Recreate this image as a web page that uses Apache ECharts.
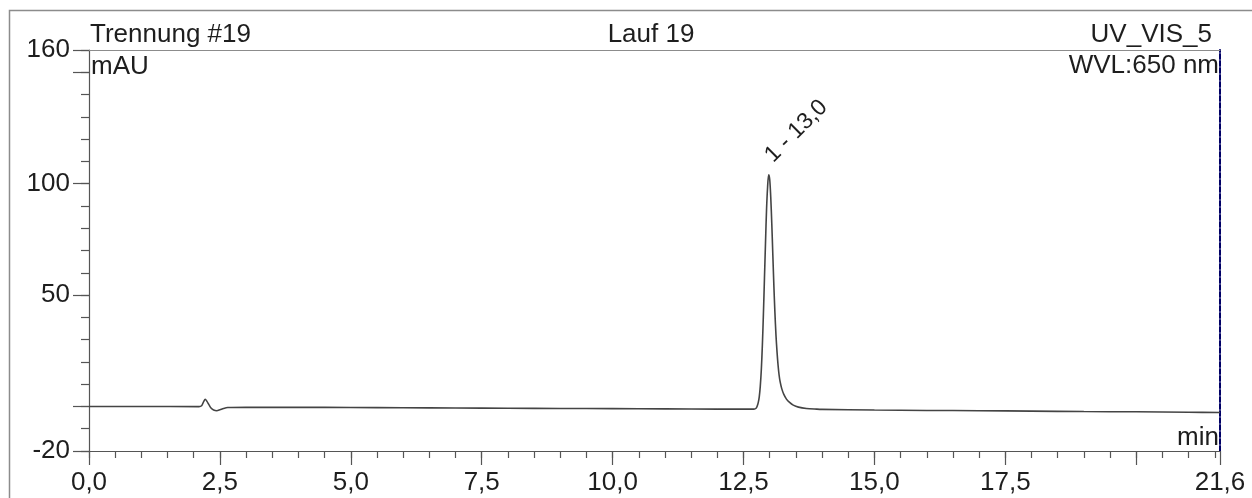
<!DOCTYPE html>
<html>
<head>
<meta charset="utf-8">
<script src="https://cdn.jsdelivr.net/npm/echarts@6/dist/echarts.min.js"></script>
<style>
html,body{margin:0;padding:0;background:#fff;}
#c{width:1252px;height:498px;}
</style>
</head>
<body>
<div id="c"></div>
<script>
// ---- data ----
const timeMin = [
  0.0, 1.0, 2.10, 2.15, 2.19, 2.22, 2.25, 2.29, 2.33, 2.38, 2.44, 2.50, 2.57, 2.65, 3.0,
  4.0, 5.0, 6.0, 7.0, 8.0, 9.0, 10.0, 11.0, 12.0, 12.5, 12.70,
  12.74, 12.76, 12.78, 12.80, 12.82, 12.84, 12.86, 12.88, 12.90, 12.92, 12.94, 12.96, 12.98,
  13.00, 13.02, 13.04, 13.06, 13.08, 13.10, 13.12, 13.14, 13.16, 13.18, 13.20, 13.23, 13.27,
  13.32, 13.38, 13.45, 13.55, 13.70, 13.90, 14.0, 15.0, 16.0, 17.0, 18.0, 19.0, 20.0, 21.0, 21.6
];
const absorbance = [
  0.0, 0.0, -0.1, 0.3, 2.2, 3.2, 2.4, 0.8, -0.7, -1.6, -1.9, -1.5, -0.9, -0.5, -0.4,
  -0.4, -0.5, -0.6, -0.7, -0.8, -0.9, -1.0, -1.1, -1.2, -1.2, -1.2,
  -0.8, 0.1, 1.6, 4.2, 9.0, 16.5, 27.5, 41.5, 57.5, 73.5, 88.5, 98.5, 104.0,
  102.0, 94.0, 82.0, 68.0, 54.0, 42.0, 32.0, 24.5, 18.5, 14.0, 11.0, 8.0, 5.4,
  3.3, 1.8, 0.6, -0.3, -0.9, -1.2, -1.3, -1.6, -1.8, -1.9, -2.1, -2.3, -2.4, -2.6, -2.7
];
const peakNumber = 1;
const peakTime = 12.98;
const peakValue = 104.0;

const xMajorTicks = [0, 2.5, 5, 7.5, 10, 12.5, 15, 17.5, 20, 21.6];
const xLabelTicks = [0, 2.5, 5, 7.5, 10, 12.5, 15, 17.5, 21.6];
const yMajorTicks = [-20, 0, 50, 100, 150, 160];
const yLabelTicks = [-20, 50, 100, 160];

const titleLeft = 'Trennung #19';
const titleCenter = 'Lauf 19';
const titleRight = 'UV_VIS_5';
const yUnit = 'mAU';
const wavelength = 'WVL:650 nm';
const xUnit = 'min';

// ---- chart ----
const xMin = 0, xMax = 21.6, yMin = -20, yMax = 160;
const xMinor = [];
for (let v = 0; v <= 21.5 + 1e-9; v += 0.5) xMinor.push(+v.toFixed(1));

const FONT = "'Liberation Sans', Arial, sans-serif";
const TXT = '#1e1e1e';
const AX = '#555';
const fmtComma = v => (Math.round(v * 10) / 10).toFixed(1).replace('.', ',');

const chart = echarts.init(document.getElementById('c'), null, {renderer: 'canvas'});
const G = {left: 89, top: 50, right: 32, bottom: 47};

chart.setOption({
  animation: false,
  backgroundColor: '#fff',
  grid: {left: G.left, top: G.top, right: G.right, bottom: G.bottom, containLabel: false},
  xAxis: [
    { type: 'value', min: xMin, max: xMax, position: 'bottom',
      axisLine: {show: true, onZero: false, lineStyle: {color: AX, width: 1.2}},
      axisTick: {show: true, customValues: xMinor, length: 7, lineStyle: {color: AX, width: 1.2}},
      axisLabel: {show: false}, splitLine: {show: false} },
    { type: 'value', min: xMin, max: xMax, position: 'bottom',
      axisLine: {show: false, onZero: false},
      axisTick: {show: true, customValues: xMajorTicks, length: 14, lineStyle: {color: AX, width: 1.2}},
      axisLabel: {show: true, customValues: xLabelTicks, formatter: fmtComma, margin: 19,
                  fontSize: 26, fontFamily: FONT, color: TXT},
      splitLine: {show: false} },
    { type: 'value', min: xMin, max: xMax, position: 'top',
      axisLine: {show: true, onZero: false, lineStyle: {color: '#8c8c8c', width: 1.2}},
      axisTick: {show: false}, axisLabel: {show: false}, splitLine: {show: false} }
  ],
  yAxis: [
    { type: 'value', min: yMin, max: yMax, interval: 10, position: 'left',
      axisLine: {show: true, onZero: false, lineStyle: {color: AX, width: 1.2}},
      axisTick: {show: true, length: 8, lineStyle: {color: AX, width: 1.2}},
      axisLabel: {show: false}, splitLine: {show: false} },
    { type: 'value', min: yMin, max: yMax, position: 'left',
      axisLine: {show: false, onZero: false},
      axisTick: {show: true, customValues: yMajorTicks, length: 16, lineStyle: {color: AX, width: 1.2}},
      axisLabel: {show: true, customValues: yLabelTicks, margin: 19, fontSize: 26, fontFamily: FONT, color: TXT},
      splitLine: {show: false} },
    { type: 'value', min: yMin, max: yMax, position: 'right',
      axisLine: {show: true, onZero: false, lineStyle: {color: '#000066', width: 2, type: [5, 2]}},
      axisTick: {show: false}, axisLabel: {show: false}, splitLine: {show: false} }
  ],
  series: [{
    type: 'line',
    xAxisIndex: 0, yAxisIndex: 0,
    data: timeMin.map((t, i) => [t, absorbance[i]]),
    showSymbol: false,
    smooth: 0.3,
    lineStyle: {color: '#444', width: 1.6},
    z: 3,
    markPoint: {
      symbol: 'circle', symbolSize: 0, itemStyle: {color: 'rgba(0,0,0,0)'},
      data: [{
        coord: [peakTime, peakValue],
        label: {
          show: true,
          formatter: peakNumber + ' - ' + fmtComma(peakTime),
          position: 'top', distance: 16, rotate: 45,
          align: 'left', verticalAlign: 'middle',
          fontSize: 23, fontFamily: FONT, color: TXT
        }
      }]
    }
  }],
  graphic: [
    {type: 'rect', shape: {x: 9.5, y: 10.5, width: 1300, height: 600},
     style: {fill: 'none', stroke: '#8c8c8c', lineWidth: 1.5}, silent: true, z: -10},
    {type: 'text', x: 90, y: 35, style: {text: titleLeft, font: '26px ' + FONT, fill: TXT, align: 'left', verticalAlign: 'middle'}},
    {type: 'text', x: 651, y: 35, style: {text: titleCenter, font: '26px ' + FONT, fill: TXT, align: 'center', verticalAlign: 'middle'}},
    {type: 'text', x: 1212, y: 35, style: {text: titleRight, font: '26px ' + FONT, fill: TXT, align: 'right', verticalAlign: 'middle'}},
    {type: 'text', x: 91, y: 67, style: {text: yUnit, font: '26px ' + FONT, fill: TXT, align: 'left', verticalAlign: 'middle'}},
    {type: 'text', x: 1219, y: 66, style: {text: wavelength, font: '26px ' + FONT, fill: TXT, align: 'right', verticalAlign: 'middle'}},
    {type: 'text', x: 1219, y: 438, style: {text: xUnit, font: '26px ' + FONT, fill: TXT, align: 'right', verticalAlign: 'middle'}}
  ]
});
</script>
</body>
</html>
